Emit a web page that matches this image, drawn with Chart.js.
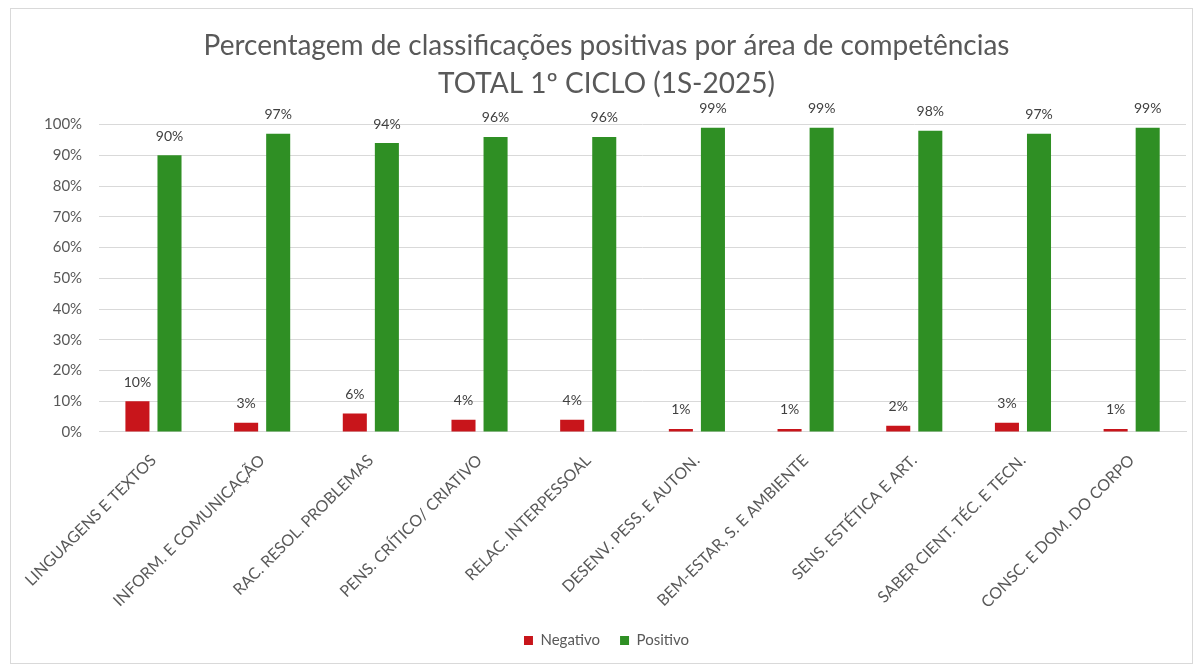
<!DOCTYPE html>
<html>
<head>
<meta charset="utf-8">
<script src="https://cdn.jsdelivr.net/npm/chart.js@4/dist/chart.umd.min.js"></script>
<style>
    html, body { margin: 0; padding: 0; background: #fff; }
    #frame {
        position: absolute; left: 10px; top: 8px;
        width: 1181px; height: 654px;
        border: 1px solid #d9d9d9;
    }
</style>
</head>
<body>
<div id="frame"><canvas id="chart"></canvas></div>
<script>
// chart data
const categories = [
    'LINGUAGENS E TEXTOS', 'INFORM. E COMUNICAÇÃO', 'RAC. RESOL. PROBLEMAS',
    'PENS. CRÍTICO/ CRIATIVO', 'RELAC. INTERPESSOAL', 'DESENV. PESS. E AUTON.',
    'BEM-ESTAR, S. E AMBIENTE', 'SENS. ESTÉTICA E ART.', 'SABER CIENT. TÉC. E TECN.',
    'CONSC. E DOM. DO CORPO'
];
const negativo = [10, 3, 6, 4, 4, 1, 1, 2, 3, 1];
const positivo = [90, 97, 94, 96, 96, 99, 99, 98, 97, 99];
const yTicks = [0, 10, 20, 30, 40, 50, 60, 70, 80, 90, 100];

const fontFamily = "Lato, 'Open Sans', sans-serif";
const textColor = '#595959';

// value labels above each bar
const barLabels = {
    id: 'barLabels',
    afterDatasetsDraw(chart) {
        const ctx = chart.ctx;
        ctx.save();
        ctx.font = '14px ' + fontFamily;
        ctx.fillStyle = '#404040';
        ctx.textAlign = 'center';
        ctx.textBaseline = 'middle';
        chart.data.datasets.forEach((ds, i) => {
            chart.getDatasetMeta(i).data.forEach((bar, j) => {
                ctx.fillText(ds.data[j] + '%', bar.x, bar.y - 19);
            });
        });
        ctx.restore();
    }
};

new Chart(document.getElementById('chart'), {
    type: 'bar',
    data: {
        labels: categories,
        datasets: [
            { label: 'Negativo', data: negativo, backgroundColor: '#c8151b' },
            { label: 'Positivo', data: positivo, backgroundColor: '#2f8f24' }
        ]
    },
    options: {
        responsive: true,
        maintainAspectRatio: false,
        animation: false,
        categoryPercentage: 0.59,
        barPercentage: 0.75,
        layout: { padding: { left: 16, right: 6, top: 18, bottom: 5 } },
        plugins: {
            title: {
                display: true,
                text: ['Percentagem de classificações positivas por área de competências', 'TOTAL 1º CICLO (1S-2025)'],
                color: textColor,
                font: { family: fontFamily, size: 28, weight: 'normal', lineHeight: 1.35 },
                padding: { top: 0, bottom: 22 }
            },
            legend: {
                position: 'bottom',
                labels: {
                    color: textColor,
                    boxWidth: 9, boxHeight: 9,
                    font: { family: fontFamily, size: 15 },
                    padding: 20
                }
            },
            tooltip: { enabled: false }
        },
        scales: {
            x: {
                grid: { display: false },
                border: { color: '#d9d9d9' },
                afterFit: axis => { axis.height -= 10; },
                ticks: {
                    color: textColor,
                    minRotation: 45, maxRotation: 45,
                    padding: 11,
                    font: { family: fontFamily, size: 16 }
                }
            },
            y: {
                min: 0, max: 100,
                afterBuildTicks: axis => { axis.ticks = yTicks.map(v => ({ value: v })); },
                grid: { color: '#d9d9d9', drawTicks: false },
                border: { display: false },
                ticks: {
                    color: textColor,
                    padding: 17,
                    font: { family: fontFamily, size: 15 },
                    callback: v => v + '%'
                }
            }
        }
    },
    plugins: [barLabels]
});
</script>
</body>
</html>
